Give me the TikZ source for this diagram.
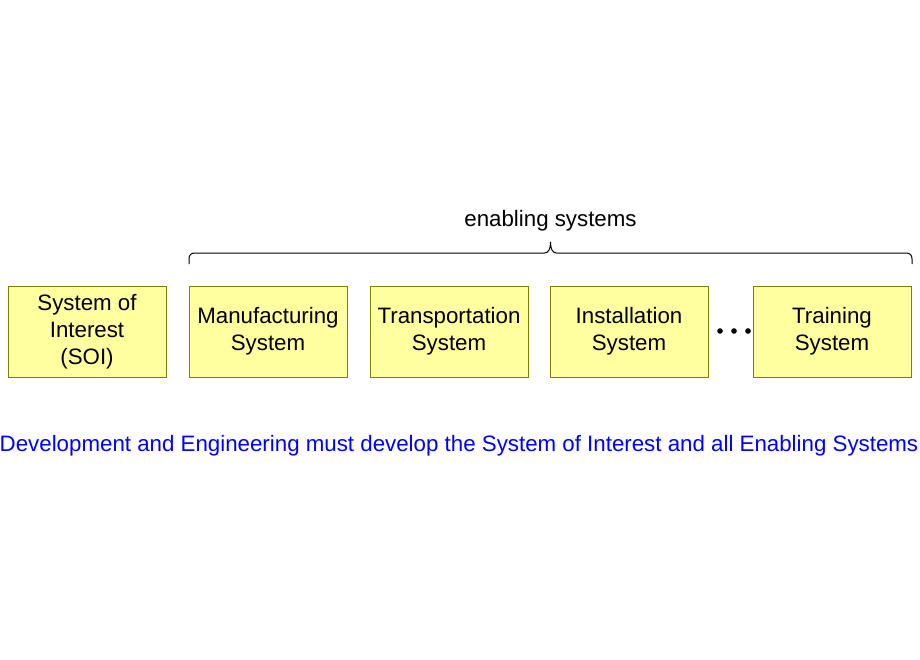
\documentclass[tikz,border=0pt]{standalone}
\usepackage{fontspec}
\setmainfont{Liberation Sans}
\usepackage{tikz}
\usetikzlibrary{positioning}
\definecolor{boxfill}{RGB}{255,255,160}
\definecolor{boxline}{RGB}{128,128,0}
\tikzset{
node distance=23pt, % gap between two boxes
sysbox/.style={draw=boxline, fill=boxfill, line width=1pt, outer sep=0pt, minimum width=158pt, minimum height=91pt, inner sep=0pt, align=center, font=\fontsize{22.3}{27}\selectfont}, % sets the properties for each system box
plain/.style={inner sep=0pt, font=\fontsize{22.3}{27}\selectfont}
}
\begin{document}
\begin{tikzpicture}[x=1pt, y=-1pt]
    \useasboundingbox (0,0) rectangle (920,660);
    \node [sysbox] (soi) at (87,331.5) {System of\\Interest\\(SOI)};
    \node [sysbox, right=of soi] (manu) {Manufacturing\\System};
    \node [sysbox, right=of manu] (trans) {Transportation\\System};
    \node [sysbox, right=22pt of trans] (inst) {Installation\\System};
    \node [sysbox, right=45pt of inst] (train) {Training\\System};
    \coordinate (bl) at (189,264);
    \coordinate (btip) at (550.5,242);
    \coordinate (br) at (912,264);
    \draw [line width=1pt] (bl) -- (189,259) .. controls (189,255) and (191,253) .. (195,253)
        -- (544.5,253) .. controls (548.5,253) and (550.5,249) .. (btip)
        .. controls (550.5,249) and (552.5,253) .. (556.5,253)
        -- (906,253) .. controls (910,253) and (912,255) .. (912,259) -- (br);
    \node [plain] (enab) at (550.5,220.5) {enabling systems};
    \foreach \x in {720,734,748}
        \fill [black] (\x,331) circle (2.8);
    \node [plain, text=blue] (dev) at (459,445.5) {Development and Engineering must develop the System of Interest and all Enabling Systems};
\end{tikzpicture}
\end{document}
